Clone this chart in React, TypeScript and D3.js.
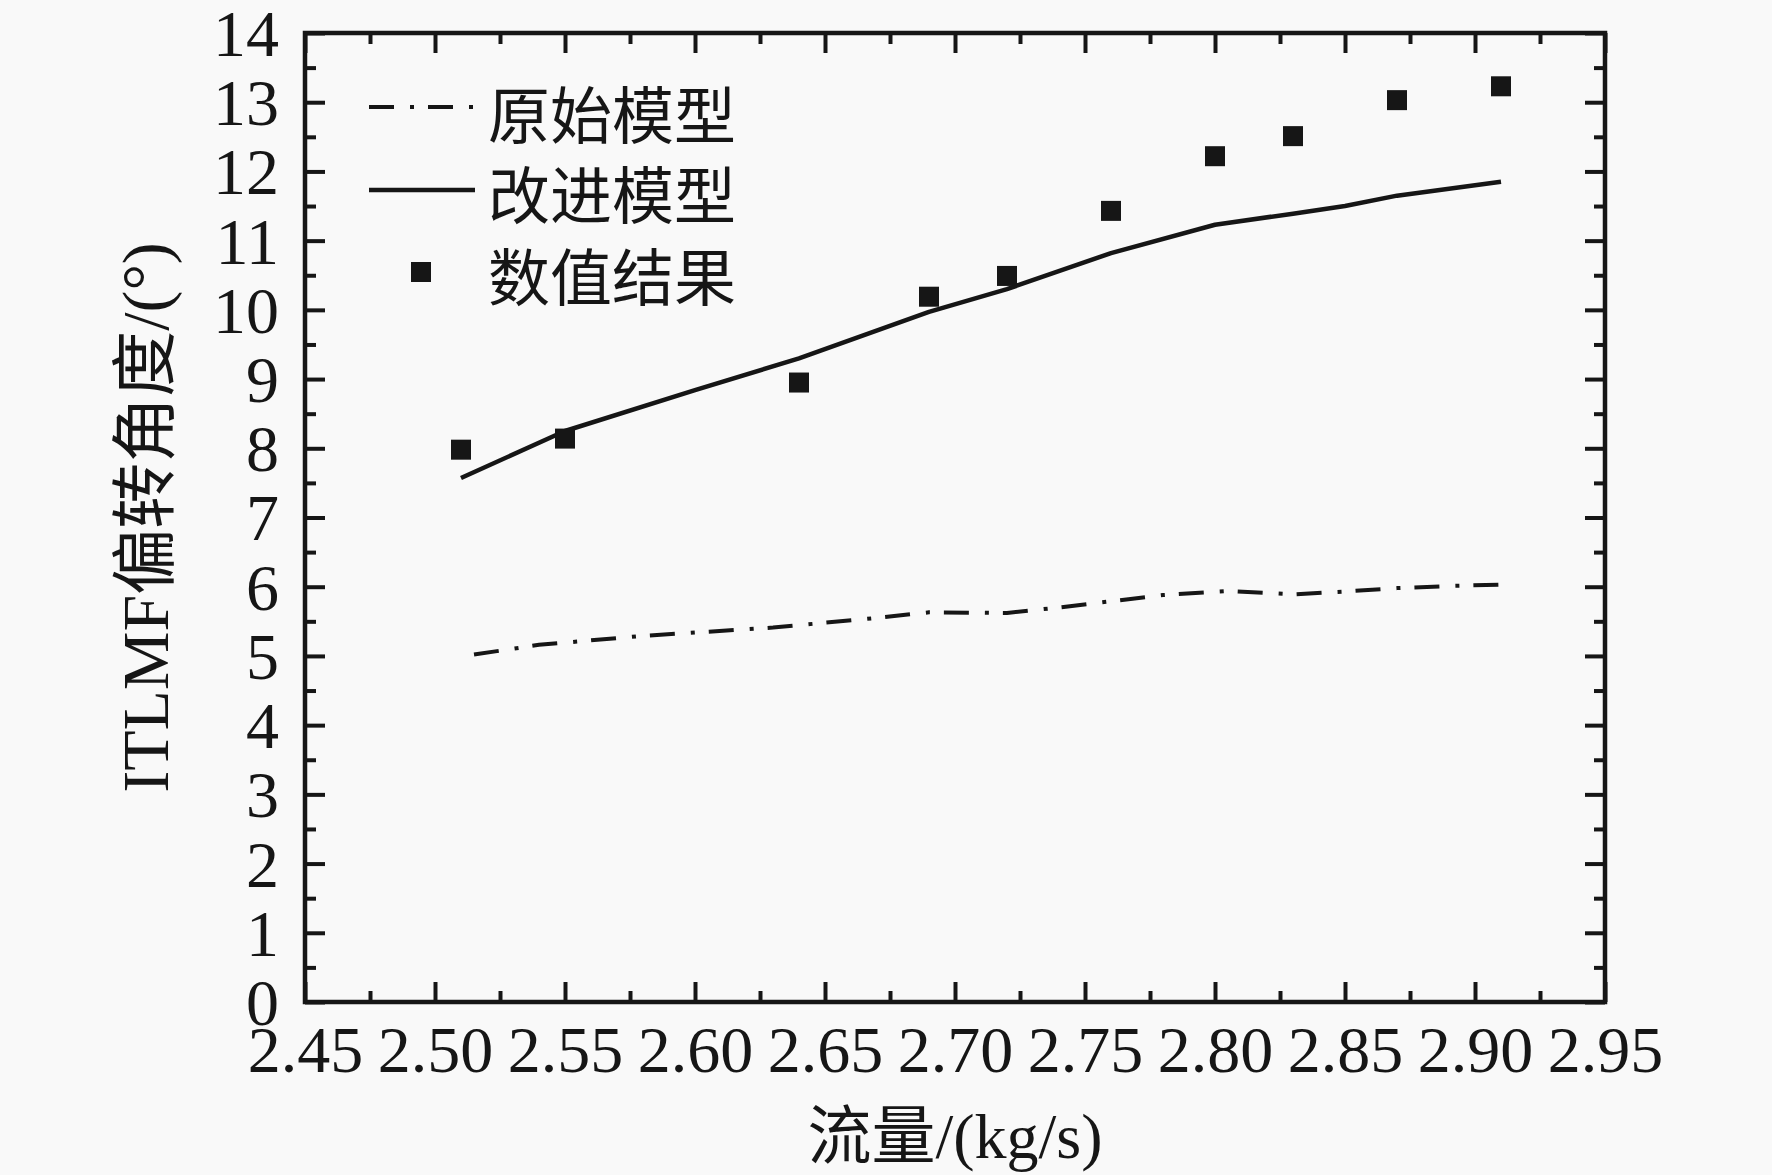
import * as d3 from "d3"
import { useEffect, useRef } from "react"

const W = 1772
const H = 1175
const margin = { top: 33, right: 167, bottom: 173, left: 305 }
const innerW = W - margin.left - margin.right
const innerH = H - margin.top - margin.bottom

const INK = "#161616"
const BG = "#f9f9f9"
const SERIF = "'Liberation Serif', 'Times New Roman', 'Noto Sans CJK SC', serif"

// 数值结果 (squares)
const numFlow = [2.51, 2.55, 2.64, 2.69, 2.72, 2.76, 2.8, 2.83, 2.87, 2.91]
const numAngle = [7.98, 8.14, 8.95, 10.19, 10.49, 11.43, 12.22, 12.51, 13.03, 13.23]

// 改进模型 (solid line)
const impFlow = [2.51, 2.55, 2.6, 2.64, 2.69, 2.72, 2.76, 2.8, 2.83, 2.85, 2.87, 2.91]
const impAngle = [7.57, 8.25, 8.84, 9.3, 9.97, 10.3, 10.82, 11.23, 11.39, 11.5, 11.65, 11.85]

// 原始模型 (dash-dot line)
const oriFlow = [2.515, 2.54, 2.58, 2.63, 2.67, 2.69, 2.72, 2.74, 2.76, 2.78, 2.805, 2.83, 2.85, 2.87, 2.89, 2.91]
const oriAngle = [5.02, 5.16, 5.29, 5.41, 5.55, 5.63, 5.62, 5.7, 5.79, 5.88, 5.94, 5.89, 5.93, 5.98, 6.01, 6.03]

const xTicks = [2.45, 2.5, 2.55, 2.6, 2.65, 2.7, 2.75, 2.8, 2.85, 2.9, 2.95]
const yTicks = d3.range(0, 15, 1)
const xMinor = d3.range(0, 10).map((i) => 2.475 + i * 0.05)
const yMinor = d3.range(0, 14).map((i) => 0.5 + i)

const legendItems = ["原始模型", "改进模型", "数值结果"]

export default function App() {
  const svgRef = useRef<SVGSVGElement | null>(null)

  useEffect(() => {
    if (!svgRef.current) return
    const svg = d3.select(svgRef.current)
    svg.selectAll("*").remove()

    svg.append("rect").attr("width", W).attr("height", H).attr("fill", BG)

    const g = svg.append("g").attr("transform", `translate(${margin.left},${margin.top})`)

    const x = d3.scaleLinear().domain([2.45, 2.95]).range([0, innerW])
    const y = d3.scaleLinear().domain([0, 14]).range([innerH, 0])

    const styleAxis = (sel: any, withText: boolean) => {
      sel.select(".domain").remove()
      sel.selectAll("line").attr("stroke", INK).attr("stroke-width", 4)
      if (withText) {
        sel.selectAll("text").attr("fill", INK).style("font-family", SERIF).style("font-size", "66px")
      } else {
        sel.selectAll("text").remove()
      }
    }

    // Bottom axis
    g.append("g")
      .attr("transform", `translate(0,${innerH})`)
      .call(d3.axisBottom(x).tickValues(xTicks).tickSize(-20).tickPadding(23).tickFormat(d3.format(".2f")))
      .call((s) => styleAxis(s, true))
    g.append("g")
      .attr("transform", `translate(0,${innerH})`)
      .call(d3.axisBottom(x).tickValues(xMinor).tickSize(-11))
      .call((s) => styleAxis(s, false))

    // Top axis
    g.append("g")
      .call(d3.axisTop(x).tickValues(xTicks).tickSize(-20))
      .call((s) => styleAxis(s, false))
    g.append("g")
      .call(d3.axisTop(x).tickValues(xMinor).tickSize(-11))
      .call((s) => styleAxis(s, false))

    // Left axis
    g.append("g")
      .call(d3.axisLeft(y).tickValues(yTicks).tickSize(-20).tickPadding(26).tickFormat(d3.format("d")))
      .call((s) => styleAxis(s, true))
      .call((s) => s.selectAll("text").attr("dy", "0.34em"))
    g.append("g")
      .call(d3.axisLeft(y).tickValues(yMinor).tickSize(-11))
      .call((s) => styleAxis(s, false))

    // Right axis
    g.append("g")
      .attr("transform", `translate(${innerW},0)`)
      .call(d3.axisRight(y).tickValues(yTicks).tickSize(-20))
      .call((s) => styleAxis(s, false))
    g.append("g")
      .attr("transform", `translate(${innerW},0)`)
      .call(d3.axisRight(y).tickValues(yMinor).tickSize(-11))
      .call((s) => styleAxis(s, false))

    // Frame
    g.append("rect")
      .attr("width", innerW)
      .attr("height", innerH)
      .attr("fill", "none")
      .attr("stroke", INK)
      .attr("stroke-width", 4.5)

    const path = (xs: number[], ys: number[]) =>
      d3.line<number>().x((_, i) => x(xs[i])).y((_, i) => y(ys[i]))(xs)

    // 原始模型
    g.append("path")
      .attr("d", path(oriFlow, oriAngle))
      .attr("fill", "none")
      .attr("stroke", INK)
      .attr("stroke-width", 4)
      .attr("stroke-dasharray", "25,16,4,14")

    // 改进模型
    g.append("path")
      .attr("d", path(impFlow, impAngle))
      .attr("fill", "none")
      .attr("stroke", INK)
      .attr("stroke-width", 4.5)
      .attr("stroke-linejoin", "round")

    // 数值结果
    const sq = 20
    g.selectAll("rect.pt")
      .data(numFlow)
      .enter()
      .append("rect")
      .attr("class", "pt")
      .attr("x", (d) => x(d) - sq / 2)
      .attr("y", (_, i) => y(numAngle[i]) - sq / 2)
      .attr("width", sq)
      .attr("height", sq)
      .attr("fill", INK)

    // Legend
    const lg = svg.append("g")
    const rowY = [110, 190, 272]
    lg.append("line")
      .attr("x1", 369).attr("x2", 475).attr("y1", rowY[0] - 3).attr("y2", rowY[0] - 3)
      .attr("stroke", INK).attr("stroke-width", 4).attr("stroke-dasharray", "25,16,4,14")
    lg.append("line")
      .attr("x1", 369).attr("x2", 475).attr("y1", rowY[1]).attr("y2", rowY[1])
      .attr("stroke", INK).attr("stroke-width", 4.5)
    lg.append("rect")
      .attr("x", 421 - sq / 2).attr("y", rowY[2] - sq / 2).attr("width", sq).attr("height", sq)
      .attr("fill", INK)
    legendItems.forEach((t, i) => {
      lg.append("text")
        .attr("x", 488)
        .attr("y", rowY[i] + 2)
        .attr("dominant-baseline", "central")
        .style("font-family", "'Noto Sans CJK SC', sans-serif")
        .style("font-size", "62px")
        .attr("fill", INK)
        .text(t)
    })

    // Axis titles
    svg.append("text")
      .attr("x", margin.left + innerW / 2)
      .attr("y", 1158)
      .attr("text-anchor", "middle")
      .style("font-family", SERIF)
      .style("font-size", "64px")
      .attr("fill", INK)
      .text("流量/(kg/s)")

    svg.append("text")
      .attr("transform", `translate(168,${margin.top + innerH / 2}) rotate(-90)`)
      .attr("text-anchor", "middle")
      .style("font-family", SERIF)
      .style("font-size", "66px")
      .attr("fill", INK)
      .text("ITLMF偏转角度/(°)")
  }, [])

  return (
    <svg
      ref={svgRef}
      width={W}
      height={H}
      style={{ position: "absolute", left: 0, top: 0, display: "block" }}
      xmlns="http://www.w3.org/2000/svg"
    />
  )
}
